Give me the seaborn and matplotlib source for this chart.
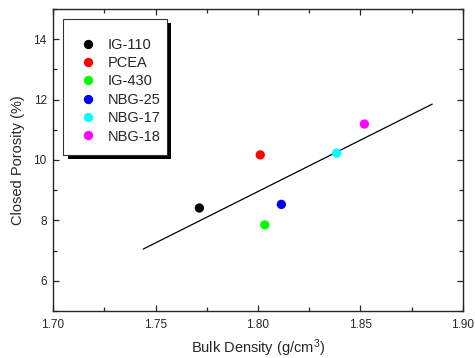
import pandas as pd
import seaborn as sns
import matplotlib.pyplot as plt
from matplotlib.patches import Rectangle
from matplotlib.ticker import MultipleLocator

# data
grades = ["IG-110", "PCEA", "IG-430", "NBG-25", "NBG-17", "NBG-18"]
bulk_density = [1.7714, 1.8011, 1.8033, 1.8114, 1.8384, 1.8519]
closed_porosity = [8.41, 10.17, 7.85, 8.53, 10.23, 11.19]
colors = ["#000000", "#ff0000", "#00ff00", "#0000ff", "#00ffff", "#ff00ff"]

# linear fit line end points
fit_x = [1.744, 1.885]
fit_y = [7.05, 11.85]

df = pd.DataFrame({"Grade": grades, "Density": bulk_density, "Porosity": closed_porosity})

sns.set_style("ticks")
plt.rcParams["font.family"] = ["Liberation Sans", "DejaVu Sans"]
plt.rcParams["mathtext.fontset"] = "custom"
plt.rcParams["mathtext.rm"] = "Liberation Sans"

fig = plt.figure(figsize=(4.75, 3.58), dpi=100)
ax = fig.add_axes([0.1116, 0.1313, 0.8631, 0.8436])

sns.lineplot(x=fit_x, y=fit_y, color="black", linewidth=0.9, ax=ax, legend=False)
sns.scatterplot(data=df, x="Density", y="Porosity", hue="Grade", palette=colors,
                s=45, edgecolor="none", ax=ax, zorder=3)

ax.set_xlim(1.70, 1.90)
ax.set_ylim(5, 15)
ax.xaxis.set_minor_locator(MultipleLocator(0.025))
ax.yaxis.set_major_locator(MultipleLocator(2))
ax.yaxis.set_minor_locator(MultipleLocator(1))
ax.set_xticks([1.70, 1.75, 1.80, 1.85, 1.90])
ax.set_xticklabels(["1.70", "1.75", "1.80", "1.85", "1.90"])
ax.tick_params(which="both", direction="in", top=True, right=True, labelsize=8.5, width=0.9)
ax.tick_params(which="major", length=4.3)
ax.tick_params(which="minor", length=2.6)
ax.tick_params(axis="x", pad=5.5)
ax.tick_params(axis="y", pad=4.5)
for sp in ax.spines.values():
    sp.set_linewidth(1.0)

ax.set_xlabel("Bulk Density (g/cm$\\mathregular{^3}$)", fontsize=10.5, labelpad=5)
ax.set_ylabel("Closed Porosity (%)", fontsize=10.5, labelpad=6)

# Origin style legend box with solid black shadow
box_x, box_y, box_w, box_h = 0.0244, 0.5166, 0.2536, 0.4504
ax.add_patch(Rectangle((box_x + 0.011, box_y - 0.014), box_w, box_h, transform=ax.transAxes,
                       facecolor="black", edgecolor="none", zorder=4, clip_on=False))
ax.add_patch(Rectangle((box_x, box_y), box_w, box_h, transform=ax.transAxes,
                       facecolor="white", edgecolor="#333333", linewidth=0.8, zorder=5,
                       clip_on=False))

leg = ax.legend(loc="upper left", bbox_to_anchor=(0.064, 0.905), borderaxespad=0,
                fontsize=10.5, frameon=False, markerscale=1.0,
                handletextpad=0.75, labelspacing=0.3, borderpad=0,
                handlelength=1.2)
leg.set_zorder(6)

fig.savefig("out.png", dpi=100)
